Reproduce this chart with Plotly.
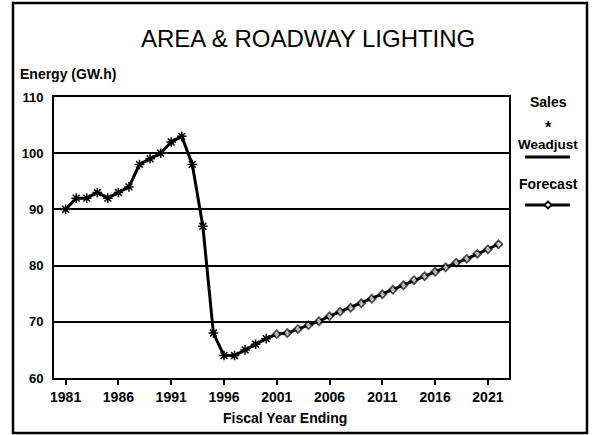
import plotly.graph_objects as go

# ---- data ----
sales_years = list(range(1981, 2001))
sales_values = [90, 92, 92, 93, 92, 93, 94, 98, 99, 100, 102, 103, 98, 87, 68, 64, 64, 65, 66, 67]

forecast_years = list(range(2000, 2023))
forecast_values = [67, 67.8, 68.0, 68.7, 69.4, 70.1, 71.0, 71.8, 72.5, 73.3, 74.1, 74.9,
                   75.7, 76.5, 77.4, 78.1, 78.9, 79.7, 80.5, 81.2, 82.1, 82.9, 83.8]

x_tick_vals = [1981, 1986, 1991, 1996, 2001, 2006, 2011, 2016, 2021]
y_tick_vals = [60, 70, 80, 90, 100, 110]

W, H = 592, 435
FONT = "Arial, Liberation Sans, sans-serif"

def px(x):
    return x / W

def py(y):
    return 1 - y / H

fig = go.Figure()

# Weadjust line
fig.add_trace(go.Scatter(x=sales_years, y=sales_values, mode="lines",
                         line=dict(color="black", width=3), showlegend=False, hoverinfo="skip"))
# Forecast line with diamonds
fig.add_trace(go.Scatter(x=forecast_years, y=forecast_values, mode="lines+markers",
                         line=dict(color="black", width=3),
                         marker=dict(symbol="diamond", size=[0] + [6] * (len(forecast_years) - 1),
                                     color="white", line=dict(color="black", width=1.8)),
                         showlegend=False))
# Sales asterisks
fig.add_trace(go.Scatter(x=sales_years, y=sales_values, mode="markers",
                         marker=dict(symbol="asterisk-open", size=8, color="black",
                                     line=dict(color="black", width=1.5)),
                         showlegend=False))

fig.update_layout(
    width=W, height=H,
    margin=dict(l=0, r=0, t=0, b=0),
    paper_bgcolor="white", plot_bgcolor="white",
    font=dict(family=FONT, color="black"),
    xaxis=dict(domain=[px(54), px(509)], range=[1979.9, 2023], tickvals=x_tick_vals,
               showgrid=False, zeroline=False, showline=True, mirror=True,
               linecolor="black", linewidth=2, ticks="outside", ticklen=5, tickwidth=1.5,
               tickcolor="black", tickfont=dict(size=14, family=FONT, weight="bold"),
               automargin=False),
    yaxis=dict(domain=[py(378), py(97)], range=[60, 110], tickvals=y_tick_vals,
               showgrid=True, gridcolor="black", gridwidth=1.5, zeroline=False,
               showline=True, mirror=True, linecolor="black", linewidth=2,
               ticks="", ticklabelstandoff=6,
               tickfont=dict(size=13, family=FONT, weight="bold"), automargin=False),
    showlegend=False,
)

shapes = [
    # outer frame
    dict(type="rect", xref="paper", yref="paper", x0=px(13), x1=px(587), y0=py(433), y1=py(3),
         line=dict(color="black", width=2.5)),
    # legend samples
    dict(type="line", xref="paper", yref="paper", x0=px(525), x1=px(570), y0=py(157), y1=py(157),
         line=dict(color="black", width=3)),
    dict(type="line", xref="paper", yref="paper", x0=px(525), x1=px(570), y0=py(205), y1=py(205),
         line=dict(color="black", width=3)),
    dict(type="path", xref="paper", yref="paper",
         path=f"M {px(544.5)},{py(205)} L {px(548)},{py(201.5)} L {px(551.5)},{py(205)} L {px(548)},{py(208.5)} Z",
         fillcolor="white", line=dict(color="black", width=1.8)),
]
fig.update_layout(shapes=shapes)

annotations = [
    dict(text="AREA &amp; ROADWAY LIGHTING", x=px(308), y=py(38.5), font=dict(size=24, family=FONT)),
    dict(text="<b>Energy (GW.h)</b>", x=px(18), y=py(74), xanchor="left", font=dict(size=14, family=FONT)),
    dict(text="<b>Fiscal Year Ending</b>", x=px(285), y=py(418), font=dict(size=14, family=FONT)),
    dict(text="<b>Sales</b>", x=px(548), y=py(102), font=dict(size=14, family=FONT)),
    dict(text="<b>*</b>", x=px(548), y=py(127), font=dict(size=16, family=FONT)),
    dict(text="<b>Weadjust</b>", x=px(548), y=py(145), font=dict(size=13.5, family=FONT)),
    dict(text="<b>Forecast</b>", x=px(548), y=py(184), font=dict(size=14, family=FONT)),
]
for a in annotations:
    a.update(xref="paper", yref="paper", showarrow=False)
    a.setdefault("xanchor", "center")
    a.setdefault("yanchor", "middle")
fig.update_layout(annotations=annotations)

fig.write_html("out.html", config={"displayModeBar": False},
               post_script="document.body.style.margin='0';document.body.style.overflow='hidden';")
